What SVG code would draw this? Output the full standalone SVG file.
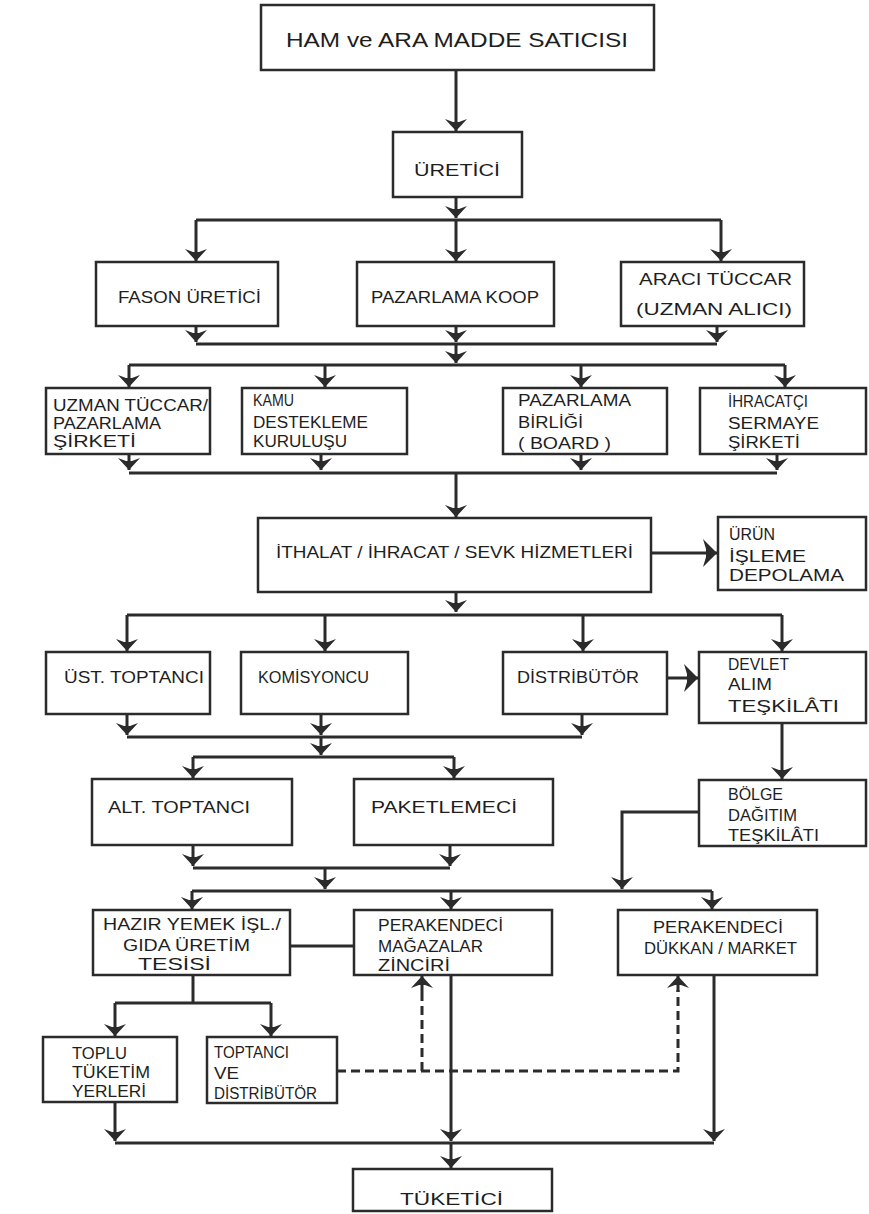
<svg xmlns="http://www.w3.org/2000/svg" width="869" height="1214" viewBox="0 0 869 1214">
<style>
.box{fill:#fff;stroke:#2b2b2b;stroke-width:2.5}
.t{font-family:"Liberation Sans",Arial,sans-serif;font-size:17px;fill:#1e1e1e}
.s{font-size:16px}
.big{font-size:21px}
.c{fill:none;stroke:#2b2b2b;stroke-width:3}
.a{marker-end:url(#ah)}
.ab{marker-end:url(#ahb)}
.d{fill:none;stroke:#2b2b2b;stroke-width:3;stroke-dasharray:9,5}
</style>
<defs>
<marker id="ah" markerUnits="userSpaceOnUse" markerWidth="16" markerHeight="26" refX="14" refY="12" orient="auto" overflow="visible">
<path d="M14,12 L2,1 L5,9 L5,15 L2,23 Z" fill="#2b2b2b"/>
</marker>
<marker id="ahb" markerUnits="userSpaceOnUse" markerWidth="20" markerHeight="30" refX="17" refY="14" orient="auto" overflow="visible">
<path d="M17,14 L3,0 L6,10 L6,18 L3,28 Z" fill="#2b2b2b"/>
</marker>
</defs>
<rect width="869" height="1214" fill="#fff"/>

<g id="connectors">
<path class="c a" d="M456,70 V131"/>
<path class="c a" d="M456,197 V218"/>
<path class="c" d="M196,220 H721"/>
<path class="c a" d="M196,220 V261"/>
<path class="c a" d="M456,220 V261"/>
<path class="c a" d="M721,220 V261"/>
<path class="c a" d="M196,326 V342"/>
<path class="c a" d="M456,326 V342"/>
<path class="c a" d="M717,326 V342"/>
<path class="c" d="M196,344 H717"/>
<path class="c a" d="M456,344 V363"/>
<path class="c" d="M129,365 H785"/>
<path class="c a" d="M129,365 V387"/>
<path class="c a" d="M325,365 V387"/>
<path class="c a" d="M581,365 V387"/>
<path class="c a" d="M785,365 V387"/>
<path class="c a" d="M129,454 V470"/>
<path class="c a" d="M321,454 V470"/>
<path class="c a" d="M581,454 V470"/>
<path class="c a" d="M777,454 V470"/>
<path class="c" d="M129,473 H777"/>
<path class="c a" d="M456,473 V517"/>
<path class="c ab" d="M651,553 H717"/>
<path class="c a" d="M456,592 V612"/>
<path class="c" d="M127,615 H782"/>
<path class="c a" d="M127,615 V651"/>
<path class="c a" d="M325,615 V651"/>
<path class="c a" d="M583,615 V651"/>
<path class="c a" d="M782,615 V651"/>
<path class="c ab" d="M667,678 H698"/>
<path class="c a" d="M127,714 V735"/>
<path class="c a" d="M321,714 V735"/>
<path class="c a" d="M582,714 V735"/>
<path class="c" d="M127,737 H582"/>
<path class="c a" d="M321,737 V755"/>
<path class="c" d="M193,757 H454"/>
<path class="c a" d="M193,757 V778"/>
<path class="c a" d="M454,757 V778"/>
<path class="c a" d="M782,723 V779"/>
<path class="c a" d="M699,812 H622 V889"/>
<path class="c a" d="M193,845 V866"/>
<path class="c a" d="M450,845 V866"/>
<path class="c" d="M193,868 H450"/>
<path class="c a" d="M325,868 V889"/>
<path class="c" d="M192,891 H712"/>
<path class="c a" d="M192,891 V909"/>
<path class="c a" d="M451,891 V909"/>
<path class="c a" d="M712,891 V909"/>
<path class="c" d="M290,946 H354"/>
<path class="c" d="M193,975 V1003"/>
<path class="c" d="M115,1003 H271"/>
<path class="c a" d="M115,1003 V1036"/>
<path class="c a" d="M271,1003 V1036"/>
<path class="c a" d="M115,1102 V1141"/>
<path class="c a" d="M451,975 V1141"/>
<path class="c a" d="M714,975 V1141"/>
<path class="c" d="M115,1143 H714"/>
<path class="c a" d="M451,1143 V1168"/>
<path class="d" d="M337,1071 H678 V990"/>
<path class="d" d="M422,1071 V990"/>
<path class="c a" d="M422,992 V976"/>
<path class="c a" d="M678,992 V976"/>
</g>

<g id="n-ham"><rect class="box" x="261" y="5" width="393" height="65"/><text class="t big" x="286" y="47" textLength="342" lengthAdjust="spacingAndGlyphs">HAM ve ARA MADDE SATICISI</text></g>
<g id="n-uretici"><rect class="box" x="393" y="132" width="129" height="65"/><text class="t" x="414" y="176" textLength="86" lengthAdjust="spacingAndGlyphs">ÜRETİCİ</text></g>

<g id="n-fason"><rect class="box" x="96" y="262" width="182" height="64"/><text class="t" x="118" y="303" textLength="143" lengthAdjust="spacingAndGlyphs">FASON ÜRETİCİ</text></g>
<g id="n-koop"><rect class="box" x="357" y="262" width="197" height="64"/><text class="t" x="371" y="303" textLength="168" lengthAdjust="spacingAndGlyphs">PAZARLAMA KOOP</text></g>
<g id="n-araci"><rect class="box" x="621" y="262" width="183" height="64"/><text class="t" x="639" y="285" textLength="153" lengthAdjust="spacingAndGlyphs">ARACI TÜCCAR</text><text class="t" x="636" y="315" textLength="156" lengthAdjust="spacingAndGlyphs">(UZMAN ALICI)</text></g>

<g id="n-uzman"><rect class="box" x="46" y="388" width="164" height="66"/><text class="t s" x="53" y="411" textLength="155" lengthAdjust="spacingAndGlyphs">UZMAN TÜCCAR/</text><text class="t s" x="53" y="429" textLength="108" lengthAdjust="spacingAndGlyphs">PAZARLAMA</text><text class="t s" x="53" y="447" textLength="83" lengthAdjust="spacingAndGlyphs">ŞİRKETİ</text></g>
<g id="n-kamu"><rect class="box" x="242" y="388" width="165" height="66"/><text class="t s" x="253" y="406" textLength="41" lengthAdjust="spacingAndGlyphs">KAMU</text><text class="t s" x="253" y="428" textLength="115" lengthAdjust="spacingAndGlyphs">DESTEKLEME</text><text class="t s" x="253" y="447" textLength="94" lengthAdjust="spacingAndGlyphs">KURULUŞU</text></g>
<g id="n-birlik"><rect class="box" x="503" y="388" width="164" height="66"/><text class="t s" x="518" y="406" textLength="113" lengthAdjust="spacingAndGlyphs">PAZARLAMA</text><text class="t s" x="518" y="428" textLength="65" lengthAdjust="spacingAndGlyphs">BİRLİĞİ</text><text class="t s" x="518" y="449" textLength="93" lengthAdjust="spacingAndGlyphs">( BOARD )</text></g>
<g id="n-ihracatci"><rect class="box" x="700" y="388" width="166" height="66"/><text class="t s" x="728" y="407" textLength="80" lengthAdjust="spacingAndGlyphs">İHRACATÇI</text><text class="t s" x="728" y="429" textLength="91" lengthAdjust="spacingAndGlyphs">SERMAYE</text><text class="t s" x="728" y="448" textLength="72" lengthAdjust="spacingAndGlyphs">ŞİRKETİ</text></g>

<g id="n-ithalat"><rect class="box" x="258" y="518" width="393" height="74"/><text class="t" x="276" y="558" textLength="357" lengthAdjust="spacingAndGlyphs">İTHALAT / İHRACAT / SEVK HİZMETLERİ</text></g>
<g id="n-urun"><rect class="box" x="718" y="517" width="148" height="73"/><text class="t s" x="729" y="540" textLength="46" lengthAdjust="spacingAndGlyphs">ÜRÜN</text><text class="t s" x="729" y="562" textLength="77" lengthAdjust="spacingAndGlyphs">İŞLEME</text><text class="t s" x="729" y="581" textLength="115" lengthAdjust="spacingAndGlyphs">DEPOLAMA</text></g>

<g id="n-ust"><rect class="box" x="46" y="652" width="164" height="62"/><text class="t" x="64" y="683" textLength="140" lengthAdjust="spacingAndGlyphs">ÜST. TOPTANCI</text></g>
<g id="n-komisyoncu"><rect class="box" x="241" y="652" width="167" height="62"/><text class="t" x="258" y="683" textLength="111" lengthAdjust="spacingAndGlyphs">KOMİSYONCU</text></g>
<g id="n-distributor"><rect class="box" x="503" y="652" width="164" height="62"/><text class="t" x="517" y="683" textLength="122" lengthAdjust="spacingAndGlyphs">DİSTRİBÜTÖR</text></g>
<g id="n-devlet"><rect class="box" x="699" y="652" width="167" height="71"/><text class="t s" x="728" y="670" textLength="61" lengthAdjust="spacingAndGlyphs">DEVLET</text><text class="t s" x="728" y="690" textLength="44" lengthAdjust="spacingAndGlyphs">ALIM</text><text class="t s" x="728" y="712" textLength="111" lengthAdjust="spacingAndGlyphs">TEŞKİLÂTI</text></g>

<g id="n-alt"><rect class="box" x="92" y="779" width="200" height="66"/><text class="t" x="108" y="813" textLength="142" lengthAdjust="spacingAndGlyphs">ALT. TOPTANCI</text></g>
<g id="n-paketlemeci"><rect class="box" x="354" y="779" width="199" height="66"/><text class="t" x="371" y="813" textLength="146" lengthAdjust="spacingAndGlyphs">PAKETLEMECİ</text></g>
<g id="n-bolge"><rect class="box" x="699" y="780" width="167" height="66"/><text class="t s" x="728" y="800" textLength="55" lengthAdjust="spacingAndGlyphs">BÖLGE</text><text class="t s" x="728" y="821" textLength="69" lengthAdjust="spacingAndGlyphs">DAĞITIM</text><text class="t s" x="728" y="841" textLength="91" lengthAdjust="spacingAndGlyphs">TEŞKİLÂTI</text></g>

<g id="n-hazir"><rect class="box" x="93" y="910" width="197" height="65"/><text class="t s" x="103" y="930" textLength="178" lengthAdjust="spacingAndGlyphs">HAZIR YEMEK İŞL./</text><text class="t s" x="123" y="951" textLength="127" lengthAdjust="spacingAndGlyphs">GIDA ÜRETİM</text><text class="t s" x="138" y="970" textLength="73" lengthAdjust="spacingAndGlyphs">TESİSİ</text></g>
<g id="n-magaza"><rect class="box" x="354" y="910" width="198" height="65"/><text class="t s" x="378" y="931" textLength="125" lengthAdjust="spacingAndGlyphs">PERAKENDECİ</text><text class="t s" x="378" y="952" textLength="105" lengthAdjust="spacingAndGlyphs">MAĞAZALAR</text><text class="t s" x="378" y="971" textLength="72" lengthAdjust="spacingAndGlyphs">ZİNCİRİ</text></g>
<g id="n-dukkan"><rect class="box" x="618" y="910" width="199" height="65"/><text class="t" x="653" y="933" textLength="130" lengthAdjust="spacingAndGlyphs">PERAKENDECİ</text><text class="t" x="644" y="954" textLength="153" lengthAdjust="spacingAndGlyphs">DÜKKAN / MARKET</text></g>

<g id="n-toplu"><rect class="box" x="43" y="1037" width="134" height="65"/><text class="t s" x="72" y="1059" textLength="55" lengthAdjust="spacingAndGlyphs">TOPLU</text><text class="t s" x="72" y="1078" textLength="78" lengthAdjust="spacingAndGlyphs">TÜKETİM</text><text class="t s" x="72" y="1097" textLength="74" lengthAdjust="spacingAndGlyphs">YERLERİ</text></g>
<g id="n-toptanci"><rect class="box" x="207" y="1037" width="130" height="66"/><text class="t s" x="214" y="1058" textLength="75" lengthAdjust="spacingAndGlyphs">TOPTANCI</text><text class="t s" x="214" y="1079" textLength="25" lengthAdjust="spacingAndGlyphs">VE</text><text class="t s" x="214" y="1099" textLength="103" lengthAdjust="spacingAndGlyphs">DİSTRİBÜTÖR</text></g>

<g id="n-tuketici"><rect class="box" x="353" y="1169" width="199" height="42"/><text class="t" x="400" y="1205" textLength="103" lengthAdjust="spacingAndGlyphs">TÜKETİCİ</text></g>
</svg>
